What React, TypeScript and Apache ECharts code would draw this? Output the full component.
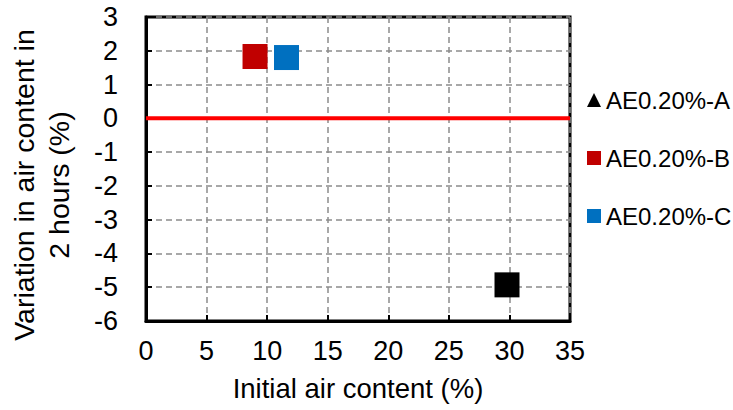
import React, { useEffect, useRef } from "react";
import * as echarts from "echarts";

// Initial air content (%) vs. variation in air content after 2 hours (%)
const seriesNames = ["AE0.20%-A", "AE0.20%-B", "AE0.20%-C"];
const seriesColors = ["#000000", "#C00000", "#0070C0"];
const legendIcons = ["triangle", "rect", "rect"];
const initialAir = [29.8, 9.0, 11.6];
const airVariation = [-4.93, 1.83, 1.8];
const xTicks = { min: 0, max: 35, interval: 5 };
const yTicks = { min: -6, max: 3, interval: 1 };
const referenceLevel = 0;

const FONT = "'Liberation Sans', Arial, sans-serif";

export default function App() {
  const ref = useRef<HTMLDivElement>(null);

  useEffect(() => {
    if (!ref.current) return;
    const chart = echarts.init(ref.current, undefined, { renderer: "svg" });

    const scatterSeries = seriesNames.map((name, i) => ({
      name,
      type: "scatter",
      symbol: "rect",
      symbolSize: 25,
      itemStyle: { color: seriesColors[i], opacity: 1 },
      data: [[initialAir[i], airVariation[i]]],
      z: 5,
    }));

    chart.setOption({
      animation: false,
      backgroundColor: "#ffffff",
      textStyle: { fontFamily: FONT },
      grid: {
        left: 146,
        right: 163,
        top: 17,
        bottom: 89,
        show: true,
        borderColor: "#000000",
        borderWidth: 3,
        backgroundColor: "transparent",
      },
      legend: {
        orient: "vertical",
        left: 587,
        top: 88,
        padding: 0,
        itemWidth: 14,
        itemHeight: 14,
        itemGap: 34,
        textStyle: { fontSize: 24, color: "#000", fontFamily: FONT },
        data: seriesNames.map((name, i) => ({
          name,
          icon: legendIcons[i],
          itemStyle: { color: seriesColors[i], opacity: 1 },
        })),
      },
      xAxis: {
        type: "value",
        min: xTicks.min,
        max: xTicks.max,
        interval: xTicks.interval,
        name: "Initial air content (%)",
        nameLocation: "middle",
        nameGap: 53,
        nameTextStyle: { fontSize: 27.5, color: "#000", fontFamily: FONT },
        axisLine: { show: true, onZero: false, lineStyle: { color: "#000", width: 3 } },
        axisTick: { show: true, inside: true, length: 6, lineStyle: { color: "#000", width: 2 } },
        axisLabel: { fontSize: 27, color: "#000", margin: 16, fontFamily: FONT },
        splitLine: {
          show: true,
          lineStyle: { color: "#8c8c8c", width: 1.5, type: [6, 4] },
        },
      },
      yAxis: {
        type: "value",
        min: yTicks.min,
        max: yTicks.max,
        interval: yTicks.interval,
        axisLine: { show: true, onZero: false, lineStyle: { color: "#000", width: 3 } },
        axisTick: { show: true, inside: true, length: 6, lineStyle: { color: "#000", width: 2 } },
        axisLabel: { fontSize: 27, color: "#000", margin: 28, fontFamily: FONT },
        splitLine: {
          show: true,
          lineStyle: { color: "#8c8c8c", width: 1.5, type: [6, 4] },
        },
      },
      graphic: [
        {
          type: "text",
          x: 41,
          y: 185,
          rotation: Math.PI / 2,
          style: {
            text: "Variation in air content in\n2 hours (%)",
            fontSize: 28.5,
            lineHeight: 35,
            fontFamily: FONT,
            fill: "#000",
            align: "center",
            verticalAlign: "middle",
          },
        },
      ],
      series: [
        {
          name: "zero",
          type: "line",
          symbol: "none",
          silent: true,
          lineStyle: { color: "#FF0000", width: 4 },
          data: [
            [xTicks.min, referenceLevel],
            [xTicks.max, referenceLevel],
          ],
          z: 4,
        },
        ...scatterSeries,
      ],
    });

    return () => chart.dispose();
  }, []);

  return (
    <div
      ref={ref}
      style={{ position: "fixed", left: 0, top: 0, width: 733, height: 410, background: "#fff" }}
    />
  );
}
